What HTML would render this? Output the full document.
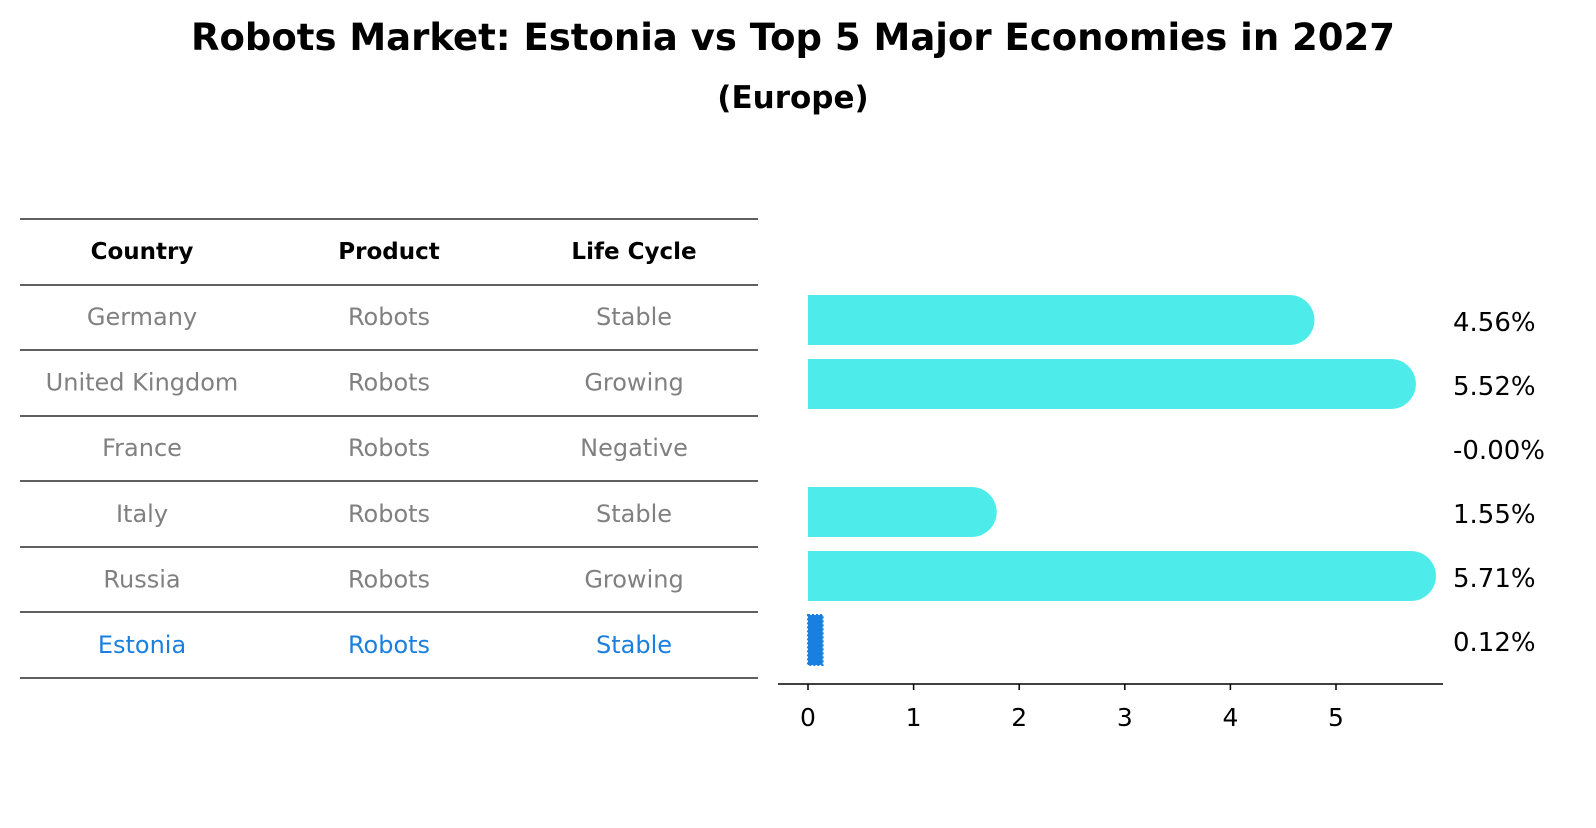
<!DOCTYPE html>
<html><head><meta charset="utf-8"><style>
body{margin:0;background:#fff;font-family:"Liberation Sans","DejaVu Sans",sans-serif;}
</style></head><body>
<svg width="1596" height="823" xmlns="http://www.w3.org/2000/svg" font-family="DejaVu Sans, Liberation Sans, sans-serif">
<text x="793" y="50" text-anchor="middle" font-size="37" font-weight="bold">Robots Market: Estonia vs Top 5 Major Economies in 2027</text>
<text x="793" y="108" text-anchor="middle" font-size="31" font-weight="bold">(Europe)</text>
<g id="table"></g>
<g id="bars"></g>
</svg>
<script>
const countries=["Germany","United Kingdom","France","Italy","Russia","Estonia"];
const products=["Robots","Robots","Robots","Robots","Robots","Robots"];
const cycles=["Stable","Growing","Negative","Stable","Growing","Stable"];
const values=[4.56,5.52,-0.0,1.55,5.71,0.12];
const labels=["4.56%","5.52%","-0.00%","1.55%","5.71%","0.12%"];
const ticks=[0,1,2,3,4,5];
const NS="http://www.w3.org/2000/svg";
function mk(t,a,p){const e=document.createElementNS(NS,t);for(const k in a)e.setAttribute(k,a[k]);p.appendChild(e);return e;}
const tb=document.getElementById('table');
const lineYs=[219,285,350,416,481,547,612,678];
lineYs.forEach(y=>{const l=mk('line',{x1:20,x2:758,y1:y,y2:y,stroke:'#000','stroke-width':1.2},tb);

});
const colX=[142,389,634];
["Country","Product","Life Cycle"].forEach((h,i)=>{const t=mk('text',{x:colX[i],y:259,'text-anchor':'middle','font-size':23,'font-weight':'bold'},tb);t.textContent=h;

});
countries.forEach((c,r)=>{const y=325+r*65.6;const col=r===countries.length-1?'#1a80e0':'#808080';
[c,products[r],cycles[r]].forEach((v,i)=>{const t=mk('text',{x:colX[i],y:y,'text-anchor':'middle','font-size':24,fill:col},tb);t.textContent=v;

});});
const bg=document.getElementById('bars');
const x=v=>808+v*105.6;
const yc=i=>320+i*64;
const h=50;
values.forEach((v,i)=>{
 const last=i===values.length-1;
 if(last){const r=mk('rect',{x:x(0),y:yc(i)-h/2,width:Math.max(0,x(v)-x(0)+2),height:h,fill:'#1a80e0',stroke:'#1a80e0','stroke-width':2,'stroke-dasharray':'2 2'},bg);
  
  }
 else if(v>0){const p=mk('path',{d:`M${x(0)},${yc(i)-h/2} H${x(v)} A${h/2},${h/2} 0 0 1 ${x(v)},${yc(i)+h/2} H${x(0)} Z`,fill:'#4deceb'},bg);
  
  }
 const t=mk('text',{x:1453,y:yc(i)+11,'font-size':26},bg);t.textContent=labels[i];
 
 
});
const ax=mk('line',{x1:778,x2:1443,y1:684,y2:684,stroke:'#000','stroke-width':1.5},bg);


ticks.forEach(tv=>{const l=mk('line',{x1:x(tv),x2:x(tv),y1:684,y2:690,stroke:'#000','stroke-width':1.5},bg);


const t=mk('text',{x:x(tv),y:726,'text-anchor':'middle','font-size':25},bg);t.textContent=tv;

});
</script>
</body></html>
